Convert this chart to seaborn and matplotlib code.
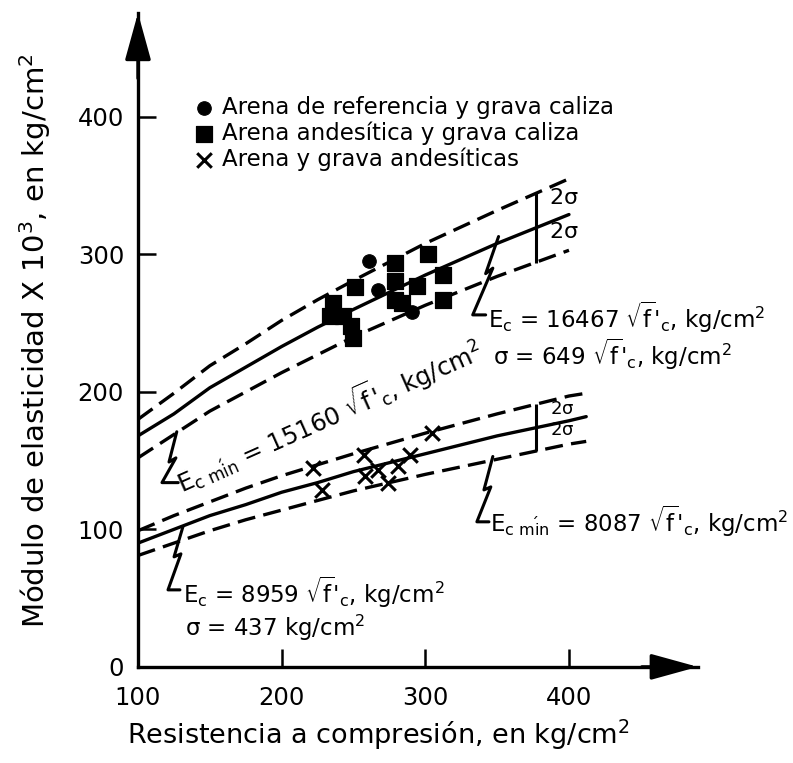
import matplotlib
matplotlib.use("Agg")
import matplotlib.pyplot as plt
import seaborn as sns

# resistencia a compresion, kg/cm2
resistencia_sup = [100, 125, 150, 175, 200, 225, 250, 300, 350, 400]
resistencia_inf = [100, 125, 150, 175, 200, 225, 250, 300, 350, 400, 412]

# modulo de elasticidad x 10^3 (grava caliza)
ec_sup_mas2s = [180, 199, 219, 235, 252, 267, 281, 308, 332, 355]
ec_sup = [168, 184, 203, 218, 233, 247, 260, 285, 308, 329]
ec_sup_min = [152, 169, 186, 200, 214, 227, 240, 263, 284, 303]

# modulo de elasticidad x 10^3 (arena y grava andesiticas)
ec_inf_mas2s = [99, 110, 120, 130, 139, 147, 155, 170, 184, 197, 199]
ec_inf = [90, 100, 110, 118, 127, 134, 142, 155, 168, 179, 182]
ec_inf_min = [81, 90, 99, 107, 114, 121, 128, 140, 151, 162, 164]

# puntos experimentales
circ_x = [261, 267, 291]
circ_y = [295, 274, 258]
cuad_x = [234, 236, 243, 248, 250, 251, 279, 279, 279, 284, 294, 302, 312, 312]
cuad_y = [255, 265, 255, 248, 239, 276, 294, 281, 267, 265, 277, 300, 285, 267]
cruz_x = [222, 228, 257, 258, 267, 274, 281, 289, 305]
cruz_y = [145, 129, 154, 139, 143, 134, 146, 154, 170]

etiquetas = ["Arena de referencia y grava caliza",
             "Arena andesítica y grava caliza",
             "Arena y grava andesíticas"]

sns.set_style("ticks")
plt.rcParams['font.family'] = ['DejaVu Sans']
plt.rcParams['mathtext.default'] = 'regular'
for k in ['text.color', 'axes.labelcolor', 'xtick.color', 'ytick.color']:
    plt.rcParams[k] = 'black'

fig = plt.figure(figsize=(7.93, 7.63), dpi=100)
ax = fig.add_axes([0.174, 0.126, 0.706, 0.857])

lw = 2.4
guion = (0, (5.4, 2.5))
for xs, ys, ls in [(resistencia_sup, ec_sup_mas2s, guion),
                   (resistencia_sup, ec_sup, '-'),
                   (resistencia_sup, ec_sup_min, guion),
                   (resistencia_inf, ec_inf_mas2s, guion),
                   (resistencia_inf, ec_inf, '-'),
                   (resistencia_inf, ec_inf_min, guion)]:
    sns.lineplot(x=xs, y=ys, ax=ax, color='black', lw=lw, linestyle=ls)

sns.scatterplot(x=circ_x, y=circ_y, marker='o', s=95, color='black',
                edgecolor='black', ax=ax, label=etiquetas[0])
sns.scatterplot(x=cuad_x, y=cuad_y, marker='s', s=120, color='black',
                edgecolor='black', ax=ax, label=etiquetas[1])
sns.scatterplot(x=cruz_x, y=cruz_y, marker='x', s=110, color='black',
                linewidth=2.2, ax=ax, label=etiquetas[2])

ax.set_xlim(100, 489.7)
ax.set_ylim(0, 475.6)
ax.set_xticks([100, 200, 300, 400])
ax.set_yticks([0, 100, 200, 300, 400])
ax.tick_params(direction='in', length=13, width=1.8, labelsize=17.5, color='black')
ax.tick_params(axis='x', pad=14)
ax.tick_params(axis='y', pad=10)
for s in ['top', 'right']:
    ax.spines[s].set_visible(False)
for s in ['left', 'bottom']:
    ax.spines[s].set_linewidth(2.4)
    ax.spines[s].set_color('black')

# flechas de los ejes
flecha = dict(arrowstyle='-|>,head_length=1.45,head_width=0.4', color='black',
              lw=2.4, mutation_scale=20, shrinkA=0, shrinkB=0)
ax.annotate('', xy=(1.0, 0), xycoords='axes fraction', xytext=(0.9, 0),
            arrowprops=flecha, annotation_clip=False)
ax.annotate('', xy=(0, 1.0), xycoords='axes fraction', xytext=(0, 0.9),
            arrowprops=flecha, annotation_clip=False)

# barras de 2 sigma
ax.vlines(377, 294, 345, color='black', lw=2.2)
ax.vlines(377, 157, 191, color='black', lw=2.2)
ax.text(386, 341, r'2$\sigma$', fontsize=16, va='center')
ax.text(386, 316, r'2$\sigma$', fontsize=16, va='center')
ax.text(387, 187.5, r'2$\sigma$', fontsize=13, va='center')
ax.text(387, 172, r'2$\sigma$', fontsize=13, va='center')


def lider(puntos):
    xs, ys = zip(*puntos)
    ax.plot(xs, ys, color='black', lw=2.2, clip_on=False)


lider([(351, 313), (342, 286), (347, 290), (333, 256), (342, 256)])
lider([(127, 171), (121.6, 149), (126.4, 152), (116.7, 134), (128, 134)])
lider([(347, 153), (340.8, 128.7), (345.6, 130.9), (335.9, 105.5), (344.3, 105.5)])
lider([(131.3, 102), (125.1, 80), (129.9, 82.2), (120.9, 56), (129.2, 56)])

raiz = r"$\sqrt{f}$'$_c$"
fs = 16.5
ax.text(343.6, 254, "E$_c$ = 16467 " + raiz + ", kg/cm$^2$", fontsize=fs, va='center')
ax.text(347, 227, r"$\sigma$ = 649 " + raiz + ", kg/cm$^2$", fontsize=fs, va='center')
ax.text(345, 106, r"E$_{c\ m\'in}$ = 8087 " + raiz + ", kg/cm$^2$", fontsize=fs, va='center')
ax.text(131.3, 54.5, "E$_c$ = 8959 " + raiz + ", kg/cm$^2$", fontsize=fs, va='center')
ax.text(132.7, 28.4, r"$\sigma$ = 437 kg/cm$^2$", fontsize=fs, va='center')
ax.text(131, 126, r"E$_{c\ m\'in}$ = 15160 " + raiz + ", kg/cm$^2$", fontsize=17.5,
        rotation=24, rotation_mode='anchor', ha='left', va='baseline')

ax.set_xlabel('')
ax.set_ylabel('')
fig.text(0.477, 0.037, 'Resistencia a compresión, en kg/cm$^2$', fontsize=19.5,
         ha='center', va='center')
fig.text(0.044, 0.554, 'Módulo de elasticidad X 10$^3$, en kg/cm$^2$', fontsize=21,
         ha='center', va='center', rotation=90)

ax.legend(loc='upper left', bbox_to_anchor=(0.243, 0.874), bbox_transform=fig.transFigure,
          frameon=False, fontsize=16.5, handlelength=1.0, handletextpad=0.3,
          labelspacing=0.1, borderpad=0, borderaxespad=0)

fig.savefig('out.png', dpi=100, facecolor='white')
